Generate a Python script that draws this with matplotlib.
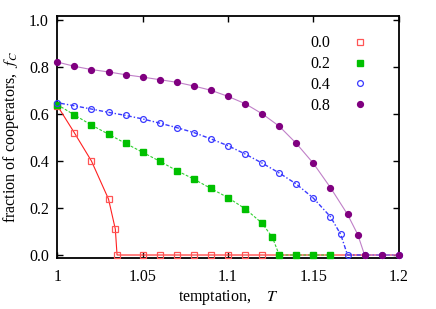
import matplotlib
matplotlib.use("Agg")
import matplotlib.pyplot as plt
from matplotlib.ticker import FixedLocator, FixedFormatter

plt.rcParams['font.family'] = ['Liberation Serif', 'DejaVu Serif']
plt.rcParams['mathtext.fontset'] = 'stix'

# data: fraction of cooperators vs temptation T, for four parameter values
T_00 = [1.00, 1.01, 1.02, 1.03, 1.034, 1.035, 1.05, 1.06, 1.07, 1.08, 1.09, 1.10, 1.11, 1.12,
        1.13, 1.14, 1.15, 1.16, 1.17, 1.18, 1.19, 1.20]
f_00 = [0.636, 0.520, 0.400, 0.238, 0.110, 0.0, 0.0, 0.0, 0.0, 0.0, 0.0, 0.0, 0.0, 0.0,
        0.0, 0.0, 0.0, 0.0, 0.0, 0.0, 0.0, 0.0]
n_marked_00 = 14

T_02 = [1.00, 1.01, 1.02, 1.03, 1.04, 1.05, 1.06, 1.07, 1.08, 1.09, 1.10, 1.11, 1.12, 1.126,
        1.13, 1.14, 1.15, 1.16]
f_02 = [0.640, 0.596, 0.553, 0.514, 0.475, 0.437, 0.399, 0.359, 0.323, 0.283, 0.244, 0.197,
        0.135, 0.075, 0.0, 0.0, 0.0, 0.0]

T_04 = [1.00, 1.01, 1.02, 1.03, 1.04, 1.05, 1.06, 1.07, 1.08, 1.09, 1.10, 1.11, 1.12, 1.13,
        1.14, 1.15, 1.16, 1.166, 1.17, 1.18, 1.19, 1.20]
f_04 = [0.648, 0.635, 0.621, 0.607, 0.594, 0.579, 0.561, 0.542, 0.521, 0.494, 0.465, 0.430,
        0.391, 0.349, 0.302, 0.242, 0.163, 0.088, 0.0, 0.0, 0.0, 0.0]

T_08 = [1.00, 1.01, 1.02, 1.03, 1.04, 1.05, 1.06, 1.07, 1.08, 1.09, 1.10, 1.11, 1.12, 1.13,
        1.14, 1.15, 1.16, 1.17, 1.176, 1.18, 1.19, 1.20]
f_08 = [0.821, 0.803, 0.789, 0.779, 0.767, 0.757, 0.746, 0.735, 0.719, 0.701, 0.675, 0.644,
        0.601, 0.548, 0.475, 0.390, 0.287, 0.173, 0.087, 0.0, 0.0, 0.0]

labels = ['0.0', '0.2', '0.4', '0.8']
xticks = [1.0, 1.05, 1.1, 1.15, 1.2]
xticklabels = ['1', '1.05', '1.1', '1.15', '1.2']
yticks = [0.0, 0.2, 0.4, 0.6, 0.8, 1.0]
yticklabels = ['0.0', '0.2', '0.4', '0.6', '0.8', '1.0']

fig = plt.figure(figsize=(4.36, 3.09), dpi=100)
ax = fig.add_axes([0.1314, 0.165, 0.7831, 0.784])

# lines (drawn below markers)
ax.plot(T_00, f_00, '-', color='#ff2020', lw=0.8, clip_on=False, zorder=2)
ax.plot(T_02, f_02, '--', color='#30d030', lw=0.8, dashes=(2.5, 1.5), clip_on=False, zorder=2)
ax.plot(T_04, f_04, ':', color='#3a3aff', lw=1.0, dashes=(1, 1.5, 3, 1.5), clip_on=False, zorder=2)
ax.plot(T_08, f_08, '-', color='#c080c8', lw=0.8, clip_on=False, zorder=2)

# markers
h0, = ax.plot(T_00[:n_marked_00], f_00[:n_marked_00], 's', ms=3.8, mfc='none', mec='#ff5555',
              mew=0.9, clip_on=False, zorder=3, label=labels[0])
h1, = ax.plot(T_02, f_02, 's', ms=3.8, color='#00c000', mec='#00c000', clip_on=False,
              zorder=4, label=labels[1])
h2, = ax.plot(T_04, f_04, 'o', ms=4.2, mfc='none', mec='#3a3aff', mew=0.9, clip_on=False,
              zorder=5, label=labels[2])
h3, = ax.plot(T_08, f_08, 'o', ms=4.2, color='#800080', mec='#800080', clip_on=False,
              zorder=6, label=labels[3])

ax.set_xlim(1.0, 1.2)
ax.set_ylim(-0.0128, 1.018)
ax.xaxis.set_major_locator(FixedLocator(xticks))
ax.xaxis.set_major_formatter(FixedFormatter(xticklabels))
ax.yaxis.set_major_locator(FixedLocator(yticks))
ax.yaxis.set_major_formatter(FixedFormatter(yticklabels))
ax.tick_params(direction='in', length=4, width=1.0, top=True, right=True,
               labelsize=11.5, pad=6, colors='black')
ax.tick_params(axis='x', pad=8)
for s in ax.spines.values():
    s.set_linewidth(1.3)

ax.set_xlabel('temptation,    $T$', fontsize=11.5, labelpad=2)
ax.set_ylabel('fraction of cooperators,  $f_C$', fontsize=11.5, labelpad=6)

leg = ax.legend(handles=[h0, h1, h2, h3], loc='upper right', bbox_to_anchor=(0.93, 0.945),
                frameon=False, markerfirst=False, fontsize=11.5, handlelength=1.0,
                handletextpad=1.4, labelspacing=0.3, borderaxespad=0)

fig.savefig('out.png', dpi=100)
